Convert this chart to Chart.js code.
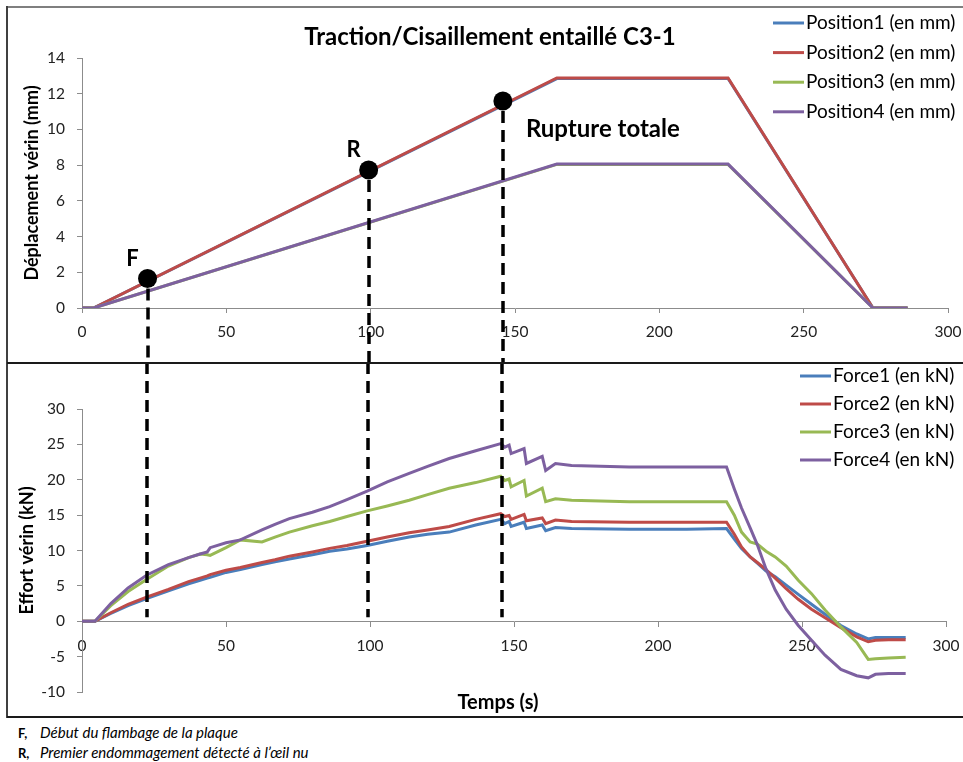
<!DOCTYPE html>
<html lang="fr">
<head>
<meta charset="utf-8">
<title>Traction/Cisaillement entaillé C3-1</title>
<script src="https://cdn.jsdelivr.net/npm/chart.js@4.4.1/dist/chart.umd.min.js"></script>
<style>
  html, body { margin: 0; padding: 0; background: #fff; }
  body { width: 963px; height: 762px; position: relative; overflow: hidden; font-family: Lato, sans-serif; }
  .zone { position: absolute; left: 0; width: 963px; }
  #zoneHaut { top: 0; height: 362px; }
  #zoneBas { top: 362px; height: 355px; }
  .trait { position: absolute; }
  .notes { position: absolute; left: 18px; top: 723px; font-size: 15px; line-height: 19px; color: #000; }
  .notes b { display: inline-block; width: 22px; font-size: 13px; }
</style>
</head>
<body>
<div class="zone" id="zoneHaut"><canvas id="chartHaut"></canvas></div>
<div class="zone" id="zoneBas"><canvas id="chartBas"></canvas></div>
<div class="trait" style="left:7px;top:6px;width:956px;height:2px;background:#7f7f7f"></div>
<div class="trait" style="left:6px;top:6px;width:2px;height:712px;background:#404040"></div>
<div class="trait" style="left:7px;top:362px;width:956px;height:2px;background:#1a1a1a"></div>
<div class="trait" style="left:7px;top:716px;width:956px;height:2px;background:#1a1a1a"></div>
<div class="notes">
  <div><b>F,</b><i>Début du flambage de la plaque</i></div>
  <div><b>R,</b><i>Premier endommagement détecté à l’œil nu</i></div>
</div>
<script>
// --- données ---
const posTime = [0, 4, 164.5, 223.8, 274, 286];
const position1 = [0, 0, 12.85, 12.85, 0, 0];
const position2 = [0, 0, 12.88, 12.88, 0, 0];
const position3 = [0, 0, 8.04, 8.04, 0, 0];
const position4 = [0, 0, 8.06, 8.06, 0, 0];

// évènements : F (flambage), R (endommagement), rupture totale
const eventTime = [22.7, 99.3, 145.8];
const eventPos = [1.65, 7.73, 11.59];
const eventLabels = ['F', 'R', ''];
const ruptureLabel = 'Rupture totale';

const forceTime = [0, 4.5, 10, 16, 22.4, 30, 37, 41, 43.5, 44.5, 50, 55, 62.5, 67, 72, 80, 86, 92, 99, 106,
  113.6, 120, 127.5, 136.7, 145.4, 146.8, 148.3, 149, 153.5, 154.3, 159.8, 161, 164.4, 170, 190, 210,
  223.8, 226.5, 229, 232, 234.5, 237.5, 240.7, 244.5, 248.7, 253.3, 258, 263.5, 269, 273, 275.5, 280, 286];
const force1 = [0, 0, 1.1, 2.2, 3.2, 4.3, 5.3, 5.8, 6.1, 6.2, 6.9, 7.3, 8.0, 8.4, 8.8, 9.4, 9.9, 10.2, 10.7, 11.3,
  11.9, 12.3, 12.6, 13.6, 14.4, 13.8, 14.1, 13.4, 14.0, 13.1, 13.6, 12.8, 13.25, 13.1, 13.0, 13.0,
  13.1, 11.6, 10.3, 9.1, 8.2, 7.1, 6.3, 5.1, 3.8, 2.4, 1.0, -0.6, -1.8, -2.5, -2.3, -2.3, -2.3];
const force2 = [0, 0, 1.2, 2.4, 3.4, 4.5, 5.6, 6.1, 6.4, 6.6, 7.2, 7.6, 8.3, 8.7, 9.2, 9.8, 10.3, 10.7, 11.3, 11.9,
  12.5, 12.9, 13.4, 14.4, 15.2, 14.8, 14.95, 14.4, 15.1, 14.2, 14.6, 13.8, 14.3, 14.1, 14.0, 14.0,
  14.0, 12.3, 10.5, 9.1, 8.3, 7.3, 6.1, 4.6, 3.1, 1.7, 0.5, -0.9, -2.2, -2.9, -2.7, -2.6, -2.6];
const force3 = [0, 0, 2.2, 4.2, 5.9, 7.8, 9.0, 9.5, 9.4, 9.3, 10.4, 11.5, 11.2, 11.9, 12.6, 13.5, 14.1, 14.8, 15.6, 16.3,
  17.1, 17.9, 18.8, 19.6, 20.5, 19.9, 20.1, 19.0, 19.9, 17.7, 18.8, 16.9, 17.3, 17.1, 16.9, 16.9,
  16.9, 15.0, 12.6, 11.2, 10.9, 9.9, 9.1, 7.8, 5.8, 3.9, 1.6, -0.8, -3.0, -5.4, -5.3, -5.2, -5.1];
const force4 = [0, 0, 2.5, 4.7, 6.5, 8.0, 9.0, 9.5, 9.8, 10.4, 11.1, 11.5, 12.9, 13.7, 14.5, 15.4, 16.2, 17.2, 18.4, 19.7,
  20.9, 21.9, 23.0, 24.1, 25.1, 24.6, 24.9, 23.7, 24.4, 22.3, 23.3, 21.3, 22.3, 22.0, 21.8, 21.8,
  21.8, 18.7, 16.0, 13.2, 10.8, 7.4, 4.4, 1.7, -0.6, -2.7, -4.8, -6.8, -7.7, -8.0, -7.5, -7.4, -7.4];

const COULEURS = ['#4A7EBB', '#BE4B48', '#98B954', '#7D60A0'];
const POLICE = 'Lato, "Open Sans", sans-serif';

Chart.defaults.font.family = POLICE;
Chart.defaults.animation = false;

function points(xs, ys) {
  return xs.map((x, i) => ({ x: x, y: ys[i] }));
}

function serie(label, xs, ys, i) {
  return {
    label: label,
    data: points(xs, ys),
    borderColor: COULEURS[i],
    backgroundColor: COULEURS[i],
    borderWidth: 3,
    pointRadius: 0,
    tension: 0,
    order: 10 - i // la dernière série passe devant, comme dans Excel
  };
}

function axeX(extra) {
  return Object.assign({
    type: 'linear',
    min: 0,
    max: 300,
    ticks: { stepSize: 50, padding: 10, color: '#222', font: { size: 15.5 } },
    grid: { drawOnChartArea: false, drawTicks: true, tickLength: 5, color: '#8c8c8c' },
    border: { color: '#8c8c8c', width: 1 }
  }, extra);
}

function axeY(min, max, step, titre, decal) {
  return {
    min: min,
    max: max,
    ticks: { stepSize: step, padding: 12, color: '#222', font: { size: 15.5 } },
    grid: { drawOnChartArea: false, drawTicks: true, tickLength: 5, color: '#8c8c8c' },
    border: { color: '#8c8c8c', width: 1 },
    title: {
      display: true,
      text: titre,
      color: '#000',
      font: { size: 18, weight: 'bold' },
      padding: { top: decal, bottom: 0 }
    },
    afterFit: (s) => { s.width = 82; }
  };
}

// légende dessinée à la main (elle déborde sur la zone de tracé)
function dessinerLegende(chart, x0, y0, pas) {
  const ctx = chart.ctx;
  ctx.save();
  ctx.font = '19px ' + POLICE;
  ctx.textBaseline = 'middle';
  ctx.textAlign = 'left';
  chart.data.datasets.filter(d => !d.horsLegende).forEach((d, i) => {
    const y = y0 + i * pas;
    ctx.strokeStyle = d.borderColor;
    ctx.lineWidth = 3;
    ctx.setLineDash([]);
    ctx.beginPath();
    ctx.moveTo(x0, y);
    ctx.lineTo(x0 + 31, y);
    ctx.stroke();
    ctx.fillStyle = '#000';
    ctx.fillText(d.label, x0 + 33, y);
  });
  ctx.restore();
}

const decorHaut = {
  id: 'decorHaut',
  afterDatasetsDraw(chart) {
    const { ctx, scales: { x, y } } = chart;
    ctx.save();
    // pointillés sous les marqueurs
    ctx.strokeStyle = '#000';
    ctx.lineWidth = 3.5;
    ctx.setLineDash([12, 7]);
    eventTime.forEach((t, i) => {
      const px = Math.round(x.getPixelForValue(t));
      ctx.beginPath();
      ctx.moveTo(px, y.getPixelForValue(eventPos[i]) + 10);
      ctx.lineTo(px, chart.height);
      ctx.stroke();
    });
    ctx.setLineDash([]);
    ctx.fillStyle = '#000';
    ctx.textBaseline = 'middle';
    ctx.textAlign = 'center';
    ctx.font = 'bold 22px ' + POLICE;
    eventLabels.forEach((lab, i) => {
      if (!lab) return;
      ctx.fillText(lab, x.getPixelForValue(eventTime[i]) - 15, y.getPixelForValue(eventPos[i]) - 20);
    });
    ctx.font = 'bold 24px ' + POLICE;
    ctx.textAlign = 'left';
    const last = eventTime.length - 1;
    ctx.fillText(ruptureLabel, x.getPixelForValue(eventTime[last]) + 23, y.getPixelForValue(eventPos[last]) + 28);
    ctx.textAlign = 'center';
    ctx.fillText('Traction/Cisaillement entaillé C3-1', 490, 37);
    ctx.restore();
    dessinerLegende(chart, 773, 23, 29.6);
  }
};

const decorBas = {
  id: 'decorBas',
  afterDatasetsDraw(chart) {
    const { ctx, scales: { x, y } } = chart;
    ctx.save();
    ctx.strokeStyle = '#000';
    ctx.lineWidth = 3.5;
    ctx.setLineDash([12, 7]);
    eventTime.forEach((t) => {
      const px = Math.round(x.getPixelForValue(t));
      ctx.beginPath();
      ctx.moveTo(px, 0);
      ctx.lineTo(px, y.getPixelForValue(0) - 4);
      ctx.stroke();
    });
    ctx.setLineDash([]);
    ctx.fillStyle = '#000';
    ctx.font = 'bold 20px ' + POLICE;
    ctx.textAlign = 'center';
    ctx.textBaseline = 'middle';
    ctx.fillText('Temps (s)', 498, 341);
    ctx.restore();
    dessinerLegende(chart, 800, 14, 28);
  }
};

// pas de marge automatique pour les étiquettes extrêmes de l'axe X
const sansMarge = (s) => { s.paddingLeft = 0; s.paddingRight = 0; };

new Chart(document.getElementById('chartHaut'), {
  type: 'line',
  data: {
    datasets: [
      serie('Position1 (en mm)', posTime, position1, 0),
      serie('Position2 (en mm)', posTime, position2, 1),
      serie('Position3 (en mm)', posTime, position3, 2),
      serie('Position4 (en mm)', posTime, position4, 3),
      {
        label: 'Évènements',
        data: points(eventTime, eventPos),
        showLine: false,
        pointRadius: 9.5,
        pointBackgroundColor: '#000',
        pointBorderWidth: 0,
        order: 0,
        horsLegende: true
      }
    ]
  },
  options: {
    responsive: true,
    maintainAspectRatio: false,
    layout: { padding: { top: 58, right: 15, bottom: 0, left: 0 } },
    plugins: { legend: { display: false }, tooltip: { enabled: false } },
    scales: {
      x: axeX({ afterFit: (s) => { s.height = 54; sansMarge(s); } }),
      y: axeY(0, 14, 2, 'Déplacement vérin (mm)', 21)
    }
  },
  plugins: [decorHaut]
});

new Chart(document.getElementById('chartBas'), {
  type: 'line',
  data: {
    datasets: [
      serie('Force1 (en kN)', forceTime, force1, 0),
      serie('Force2 (en kN)', forceTime, force2, 1),
      serie('Force3 (en kN)', forceTime, force3, 2),
      serie('Force4 (en kN)', forceTime, force4, 3)
    ]
  },
  options: {
    responsive: true,
    maintainAspectRatio: false,
    layout: { padding: { top: 47, right: 17, bottom: 25, left: 0 } },
    plugins: { legend: { display: false }, tooltip: { enabled: false } },
    scales: {
      x: axeX({ position: { y: 0 }, afterFit: sansMarge }),
      y: axeY(-10, 30, 5, 'Effort vérin (kN)', 16)
    }
  },
  plugins: [decorBas]
});
</script>
</body>
</html>
